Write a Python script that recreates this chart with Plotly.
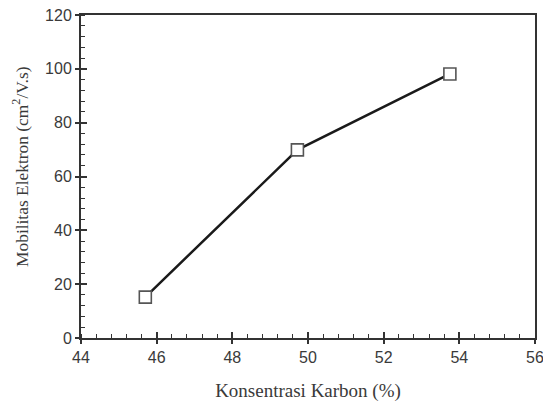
import plotly.graph_objects as go

konsentrasi_karbon = [45.7, 49.72, 53.75]
mobilitas_elektron = [15.2, 69.9, 98.1]
x_ticks = [44, 46, 48, 50, 52, 54, 56]
y_ticks = [0, 20, 40, 60, 80, 100, 120]

fig = go.Figure()
fig.add_trace(go.Scatter(
    x=konsentrasi_karbon, y=mobilitas_elektron, mode="lines+markers",
    line=dict(color="#1a1a1a", width=2.5),
    marker=dict(symbol="square", size=12, color="white", line=dict(color="#555555", width=1.6)),
    showlegend=False, cliponaxis=False,
))
# invisible trace for overlay axes
fig.add_trace(go.Scatter(x=[44], y=[0], xaxis="x2", yaxis="y2", mode="markers",
                         marker=dict(opacity=0), showlegend=False, hoverinfo="skip"))

tickfont = dict(family="Liberation Sans, Arial", size=16, color="#3a3a3a")
titlefont_x = dict(family="Liberation Serif, Times New Roman", size=19, color="#3a3a3a")
titlefont_y = dict(family="Liberation Serif, Times New Roman", size=17.4, color="#3a3a3a")

fig.update_layout(
    width=543, height=402,
    margin=dict(l=81, r=8, t=15, b=64),
    plot_bgcolor="white", paper_bgcolor="white",
    xaxis=dict(range=[44, 56], tickvals=x_ticks, ticktext=[str(v) for v in x_ticks],
               automargin=False, ticklabeloverflow="allow",
               showgrid=False, zeroline=False, showline=True, linecolor="#333333", linewidth=2,
               mirror=True, ticks="outside", ticklen=4, tickwidth=1.5, tickcolor="#333333",
               tickfont=tickfont,
               minor=dict(dtick=0.4, tick0=44, ticks="inside", ticklen=4, tickwidth=1, tickcolor="#333333"),
               title=dict(text="Konsentrasi Karbon (%)", font=titlefont_x, standoff=18)),
    yaxis=dict(range=[0, 120], tickvals=y_ticks, ticktext=[str(v) for v in y_ticks],
               automargin=False, ticklabeloverflow="allow",
               showgrid=False, zeroline=False, showline=True, linecolor="#333333", linewidth=2,
               mirror=True, ticks="outside", ticklen=4, tickwidth=1.5, tickcolor="#333333",
               tickfont=tickfont,
               minor=dict(dtick=4, tick0=0, ticks="inside", ticklen=4, tickwidth=1, tickcolor="#333333")),
    xaxis2=dict(overlaying="x", range=[44, 56], tickvals=x_ticks, showticklabels=False,
                automargin=False,
                ticks="inside", ticklen=6, tickwidth=1.5, tickcolor="#333333",
                showgrid=False, zeroline=False, showline=False),
    yaxis2=dict(overlaying="y", range=[0, 120], tickvals=y_ticks, showticklabels=False,
                automargin=False,
                ticks="inside", ticklen=6, tickwidth=1.5, tickcolor="#333333",
                showgrid=False, zeroline=False, showline=False),
    annotations=[dict(text="Mobilitas Elektron (cm<sup>2</sup>/V.s)", textangle=-90,
                      xref="paper", yref="paper", x=-0.134, y=0.53,
                      xanchor="center", yanchor="middle", showarrow=False, font=titlefont_y)],
)

fig.write_html("out.html", config={"displayModeBar": False},
               post_script="document.body.style.margin='0';document.body.style.overflow='hidden';")
